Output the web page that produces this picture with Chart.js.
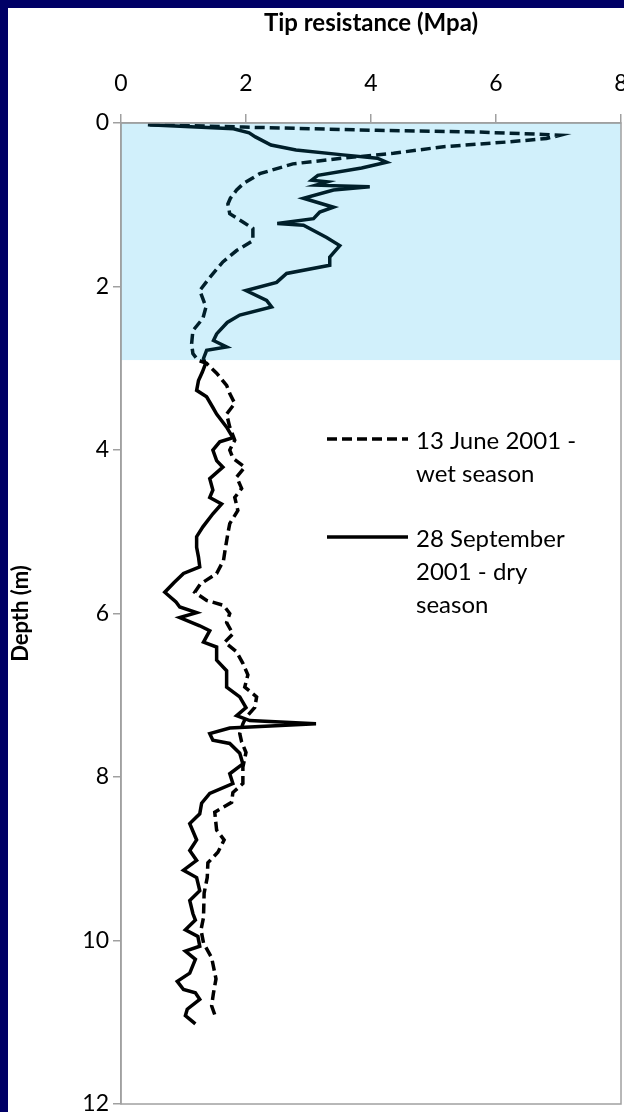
<!DOCTYPE html>
<html>
<head>
<meta charset="utf-8">
<script src="https://cdn.jsdelivr.net/npm/chart.js@4.4.1/dist/chart.umd.min.js"></script>
<style>
  html, body { margin: 0; padding: 0; background: #000066; }
  #panel { position: absolute; left: 8px; top: 8px; width: 616px; height: 1104px; background: #fff; }
</style>
</head>
<body>
<div id="panel"><canvas id="cpt" width="616" height="1104"></canvas></div>
<script>
// tick labels
const xTicks = [0, 2, 4, 6, 8];
const yTicks = [0, 2, 4, 6, 8, 10, 12];

// shaded zone (depth, m)
const zoneTop = 0;
const zoneBottom = 2.9;

// 13 June 2001 - wet season
const wetDepth = [0.02, 0.05, 0.09, 0.11, 0.14, 0.15, 0.19, 0.23, 0.29, 0.37, 0.43, 0.50, 0.62, 0.74, 0.82, 0.92, 0.99, 1.11, 1.21, 1.29, 1.44, 1.56, 1.70, 1.89, 2.05, 2.25, 2.39, 2.54, 2.70, 2.82, 2.90, 2.94, 3.06, 3.21, 3.31, 3.43, 3.56, 3.72, 3.88, 4.00, 4.10, 4.21, 4.33, 4.47, 4.58, 4.74, 4.90, 5.02, 5.25, 5.35, 5.51, 5.64, 5.74, 5.84, 5.90, 6.00, 6.11, 6.25, 6.35, 6.47, 6.61, 6.75, 6.90, 7.02, 7.15, 7.27, 7.35, 7.47, 7.57, 7.70, 7.88, 8.08, 8.19, 8.31, 8.43, 8.65, 8.77, 8.92, 9.05, 9.23, 9.42, 9.72, 9.87, 10.03, 10.21, 10.47, 10.64, 10.80, 10.95];
const wetTip = [0.46, 1.95, 4.09, 5.69, 6.76, 7.02, 6.81, 6.22, 5.16, 4.36, 3.55, 2.75, 2.22, 1.96, 1.85, 1.75, 1.71, 1.74, 1.95, 2.11, 2.11, 1.85, 1.63, 1.42, 1.26, 1.36, 1.31, 1.15, 1.13, 1.15, 1.23, 1.37, 1.53, 1.69, 1.74, 1.82, 1.69, 1.74, 1.82, 1.74, 1.79, 1.98, 1.85, 1.93, 1.82, 1.87, 1.74, 1.71, 1.66, 1.64, 1.53, 1.27, 1.18, 1.37, 1.64, 1.74, 1.69, 1.79, 1.66, 1.85, 1.95, 2.03, 1.98, 2.17, 2.14, 2.00, 1.95, 1.90, 1.93, 2.00, 1.95, 1.95, 1.79, 1.77, 1.50, 1.53, 1.65, 1.55, 1.39, 1.38, 1.33, 1.32, 1.28, 1.32, 1.45, 1.52, 1.48, 1.45, 1.52];

// 28 September 2001 - dry season
const dryDepth = [0.02, 0.05, 0.07, 0.12, 0.17, 0.27, 0.33, 0.39, 0.43, 0.48, 0.55, 0.64, 0.70, 0.72, 0.76, 0.78, 0.82, 0.92, 1.03, 1.09, 1.17, 1.23, 1.25, 1.40, 1.50, 1.64, 1.74, 1.84, 1.95, 2.05, 2.17, 2.25, 2.35, 2.44, 2.58, 2.66, 2.74, 2.78, 2.88, 2.95, 3.05, 3.15, 3.27, 3.35, 3.48, 3.56, 3.72, 3.85, 3.90, 4.00, 4.13, 4.21, 4.35, 4.49, 4.58, 4.66, 4.78, 4.94, 5.06, 5.19, 5.31, 5.43, 5.51, 5.62, 5.74, 5.86, 5.92, 5.99, 6.05, 6.15, 6.21, 6.35, 6.41, 6.57, 6.70, 6.90, 7.02, 7.15, 7.25, 7.31, 7.35, 7.40, 7.47, 7.55, 7.59, 7.71, 7.84, 7.96, 8.08, 8.20, 8.32, 8.45, 8.57, 8.77, 8.90, 9.02, 9.14, 9.23, 9.39, 9.51, 9.67, 9.75, 9.87, 9.95, 10.07, 10.13, 10.23, 10.40, 10.50, 10.60, 10.64, 10.72, 10.84, 10.92, 11.02];
const dryTip = [0.43, 1.20, 1.80, 2.05, 2.15, 2.40, 2.80, 3.55, 4.10, 4.25, 3.85, 3.15, 3.05, 3.30, 3.12, 3.98, 3.40, 2.92, 3.40, 3.18, 3.08, 2.50, 2.92, 3.29, 3.50, 3.34, 3.34, 2.65, 2.49, 2.00, 2.33, 2.41, 1.90, 1.70, 1.53, 1.48, 1.69, 1.37, 1.32, 1.35, 1.30, 1.24, 1.21, 1.37, 1.47, 1.53, 1.69, 1.79, 1.58, 1.47, 1.53, 1.63, 1.42, 1.47, 1.42, 1.61, 1.47, 1.31, 1.21, 1.21, 1.24, 1.26, 1.00, 0.85, 0.70, 0.88, 0.94, 1.21, 0.94, 1.26, 1.42, 1.32, 1.53, 1.53, 1.69, 1.69, 1.90, 2.00, 1.85, 2.06, 3.12, 1.74, 1.42, 1.47, 1.74, 1.90, 1.95, 1.74, 1.79, 1.42, 1.29, 1.26, 1.10, 1.21, 1.10, 1.21, 1.00, 1.21, 1.26, 1.10, 1.15, 1.19, 1.03, 1.23, 1.26, 1.03, 1.19, 1.10, 0.90, 1.00, 1.19, 1.26, 1.06, 1.03, 1.19];

const FONT = 'Lato, "Open Sans", sans-serif';
const toPoints = (depths, tips) => depths.map((d, i) => ({ x: tips[i], y: d }));

// shaded layer over the lines, box round the plot
const zonePlugin = {
    id: 'zone',
    afterDatasetsDraw(chart) {
        const { ctx, chartArea, scales } = chart;
        const y0 = scales.y.getPixelForValue(zoneTop);
        const y1 = scales.y.getPixelForValue(zoneBottom);
        ctx.save();
        ctx.fillStyle = 'rgba(0, 172, 233, 0.18)';
        ctx.fillRect(chartArea.left, y0, chartArea.right - chartArea.left, y1 - y0);
        ctx.strokeStyle = '#a0a0a0';
        ctx.lineWidth = 1.5;
        ctx.strokeRect(chartArea.left, chartArea.top, chartArea.right - chartArea.left, chartArea.bottom - chartArea.top);
        ctx.restore();
    }
};

// legend with wrapped labels, inside the plot
const legendPlugin = {
    id: 'sideLegend',
    afterDraw(chart) {
        const ctx = chart.ctx;
        const lx = 319, lw = 81, tx = 408, lh = 33;
        const rows = [431, 529];
        ctx.save();
        ctx.font = '24px ' + FONT;
        ctx.fillStyle = '#000';
        ctx.textBaseline = 'middle';
        chart.data.datasets.forEach((ds, i) => {
            const y = rows[i];
            ctx.beginPath();
            ctx.setLineDash(ds.borderDash || []);
            ctx.lineWidth = ds.borderWidth;
            ctx.strokeStyle = ds.borderColor;
            ctx.moveTo(lx, y);
            ctx.lineTo(lx + lw, y);
            ctx.stroke();
            ctx.setLineDash([]);
            ds.legendLines.forEach((t, j) => ctx.fillText(t, tx, y + 2 + j * lh));
        });
        ctx.restore();
    }
};

new Chart(document.getElementById('cpt'), {
    type: 'scatter',
    data: {
        datasets: [{
            label: '13 June 2001 - wet season',
            legendLines: ['13 June 2001 -', 'wet season'],
            data: toPoints(wetDepth, wetTip),
            showLine: true,
            borderColor: '#000',
            borderWidth: 3.5,
            borderDash: [10, 5],
            pointRadius: 0
        }, {
            label: '28 September 2001 - dry season',
            legendLines: ['28 September', '2001 - dry', 'season'],
            data: toPoints(dryDepth, dryTip),
            showLine: true,
            borderColor: '#000',
            borderWidth: 3.5,
            pointRadius: 0
        }]
    },
    options: {
        responsive: false,
        animation: false,
        devicePixelRatio: 1,
        layout: { padding: { top: 0, right: 3, bottom: 8, left: 0 } },
        plugins: { legend: { display: false }, tooltip: { enabled: false } },
        scales: {
            x: {
                type: 'linear',
                position: 'top',
                min: 0,
                max: 8,
                afterBuildTicks: s => { s.ticks = xTicks.map(v => ({ value: v })); },
                ticks: { color: '#000', font: { family: FONT, size: 23 }, padding: 17 },
                grid: { drawOnChartArea: false, tickLength: 9, color: '#a0a0a0', lineWidth: 1.5 },
                border: { color: '#a0a0a0', width: 1.5 },
                title: { display: true, text: 'Tip resistance (Mpa)', color: '#000', font: { family: FONT, size: 24, weight: 'bold' }, padding: { top: 1, bottom: 0 } },
                afterFit: s => { s.height = 115; s.paddingLeft = 0; s.paddingRight = 0; }
            },
            y: {
                type: 'linear',
                reverse: true,
                min: 0,
                max: 12,
                afterBuildTicks: s => { s.ticks = yTicks.map(v => ({ value: v })); },
                ticks: { color: '#000', font: { family: FONT, size: 23 }, padding: 4 },
                grid: { drawOnChartArea: false, tickLength: 8, color: '#a0a0a0', lineWidth: 1.5 },
                border: { color: '#a0a0a0', width: 1.5 },
                title: { display: true, text: 'Depth (m)', color: '#000', font: { family: FONT, size: 22, weight: 'bold' }, padding: { top: 0, bottom: 0 } },
                afterFit: s => { s.width = 113; s.paddingTop = 0; s.paddingBottom = 0; }
            }
        }
    },
    plugins: [zonePlugin, legendPlugin]
});
</script>
</body>
</html>
